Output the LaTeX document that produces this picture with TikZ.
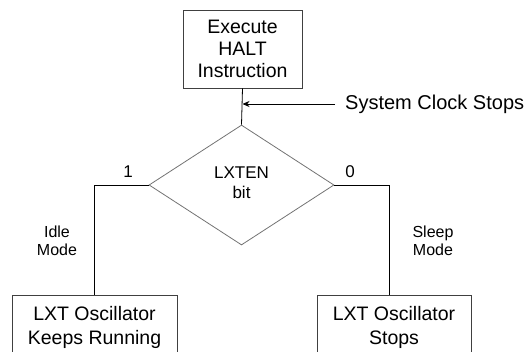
\documentclass[tikz,border=0pt]{standalone}
\usepackage{fontspec}
\setmainfont{Liberation Sans}
\usetikzlibrary{shapes.geometric,arrows.meta}
\tikzset{
  box/.style={draw=black!75, line width=0.8pt, inner sep=0pt, align=center,
    font=\fontsize{19.5}{22}\selectfont},
  decide/.style={diamond, draw=black!55, line width=0.8pt, inner sep=0pt,
    minimum width=185pt, minimum height=120pt, align=center,
    font=\fontsize{17}{20}\selectfont},
  conn/.style={draw=black, line width=0.8pt},
  lbl/.style={inner sep=0pt, align=center, font=\fontsize{16}{17}\selectfont},
}
\begin{document}
\begin{tikzpicture}[x=1pt,y=-1pt]
\useasboundingbox (0,0) rectangle (529,351);
\clip (0,0) rectangle (529,351);
\node[box, minimum width=119pt, minimum height=78pt] (top) at (242.5,49) {Execute\\HALT\\Instruction};
\node[decide] (dia) at (241.5,185) {};
\node[lbl, font=\fontsize{17}{20}\selectfont] (diatxt) at (241.5,183) {LXTEN\\bit};
\node[box, minimum width=165pt, minimum height=64pt, font=\fontsize{19.5}{24}\selectfont] (bl) at (94.5,327) {LXT Oscillator\\Keeps Running};
\node[box, minimum width=154pt, minimum height=64pt, font=\fontsize{19.5}{24}\selectfont] (br) at (394,327) {LXT Oscillator\\Stops};
\coordinate (clk) at (335,104);
\node[lbl, anchor=west, font=\fontsize{20}{22}\selectfont] (clktxt) at (345,104) {System Clock Stops};
\draw[conn] (top.south) -- (dia.north);
\draw[conn, -{Stealth[length=7pt,width=6pt]}] (clk) -- (clk -| top.south);
\draw[conn] (dia.west) -| (bl.north);
\draw[conn] (dia.east) -| ([xshift=-5pt]br.north);
\node[lbl, font=\fontsize{17}{18}\selectfont] (one) at (128,172) {1};
\node[lbl, font=\fontsize{17}{18}\selectfont] (zero) at (350,172) {0};
\node[lbl, font=\fontsize{16}{18}\selectfont] (idle) at (57,241) {Idle\\Mode};
\node[lbl, font=\fontsize{16}{18}\selectfont] (sleep) at (433,241) {Sleep\\Mode};
\end{tikzpicture}
\end{document}
